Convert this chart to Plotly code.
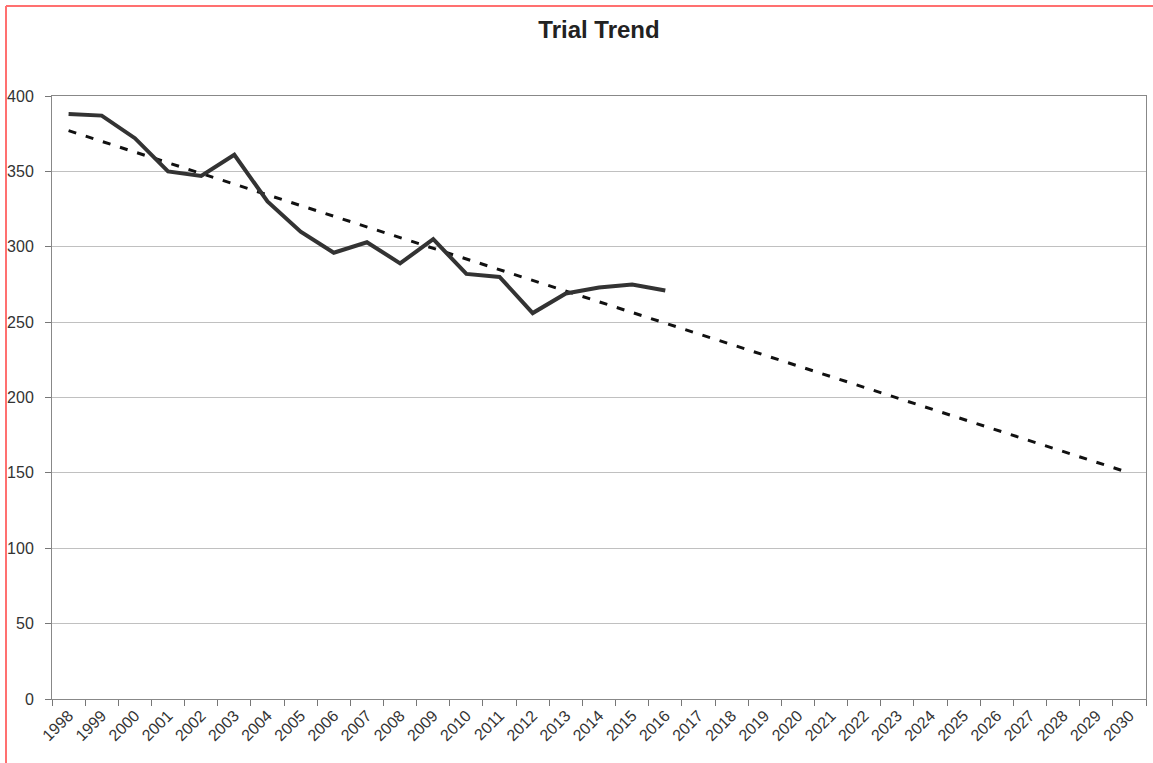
import plotly.graph_objects as go

years = [str(y) for y in range(1998, 2031)]
actual_years = [str(y) for y in range(1998, 2017)]
actual_values = [388, 387, 372, 350, 347, 361, 330, 310, 296, 303, 289, 305, 282, 280, 256, 269, 273, 275, 271]
trend_years = ["1998", "2030"]
trend_values = [377, 150]

L, R, T, B = 52, 7, 96, 64
W, H = 1153, 763
PW, PH = W - L - R, H - T - B

fig = go.Figure()
fig.add_trace(go.Scatter(x=trend_years, y=trend_values, mode="lines",
                         line=dict(color="#111111", width=3, dash="8px,10px"),
                         showlegend=False, hoverinfo="skip"))
fig.add_trace(go.Scatter(x=actual_years, y=actual_values, mode="lines",
                         line=dict(color="#333333", width=4),
                         showlegend=False))

fig.update_layout(
    width=W, height=H,
    margin=dict(l=L, r=R, t=T, b=B, autoexpand=False),
    paper_bgcolor="white", plot_bgcolor="white",
    font=dict(family="Liberation Sans, Arial, sans-serif", color="#333333"),
    title=dict(text="<b>Trial Trend</b>", xref="paper", x=0.5, xanchor="center",
               y=1 - 30 / H, yanchor="middle",
               font=dict(size=24, color="#222222")),
)
fig.update_xaxes(
    type="category", categoryorder="array", categoryarray=years,
    range=[-0.5, len(years) - 0.5], automargin=False,
    tickmode="array", tickvals=years, ticktext=years,
    tickson="boundaries", ticks="outside", ticklen=6, tickcolor="#777777",
    tickangle=-45, tickfont=dict(size=16, color="#333333"),
    showgrid=False, showline=True, linecolor="#888888", linewidth=1, mirror=True,
    zeroline=False,
)
fig.update_yaxes(
    range=[0, 400], tickmode="array", tickvals=[0, 50, 100, 150, 200, 250, 300, 350, 400],
    automargin=False,
    ticks="outside", ticklen=6, tickcolor="#777777", ticklabelstandoff=8,
    tickfont=dict(size=16, color="#333333"),
    showgrid=True, gridcolor="#c0c0c0", gridwidth=1,
    showline=True, linecolor="#888888", linewidth=1, mirror=True, zeroline=False,
)
# red frame lines (left and top) of the scanned page
xl = (6 - L) / PW
yt = 1 + (T - 6) / PH
fig.add_shape(type="line", xref="paper", yref="paper",
              x0=xl, x1=xl, y0=-B / PH - 0.01, y1=yt,
              line=dict(color="#ff7070", width=2))
fig.add_shape(type="line", xref="paper", yref="paper",
              x0=xl, x1=1 + (R + 2) / PW, y0=yt, y1=yt,
              line=dict(color="#ff7070", width=2))

fig.write_html("out.html", config={"displayModeBar": False},
               post_script="document.body.style.margin='0';document.body.style.overflow='hidden';")
